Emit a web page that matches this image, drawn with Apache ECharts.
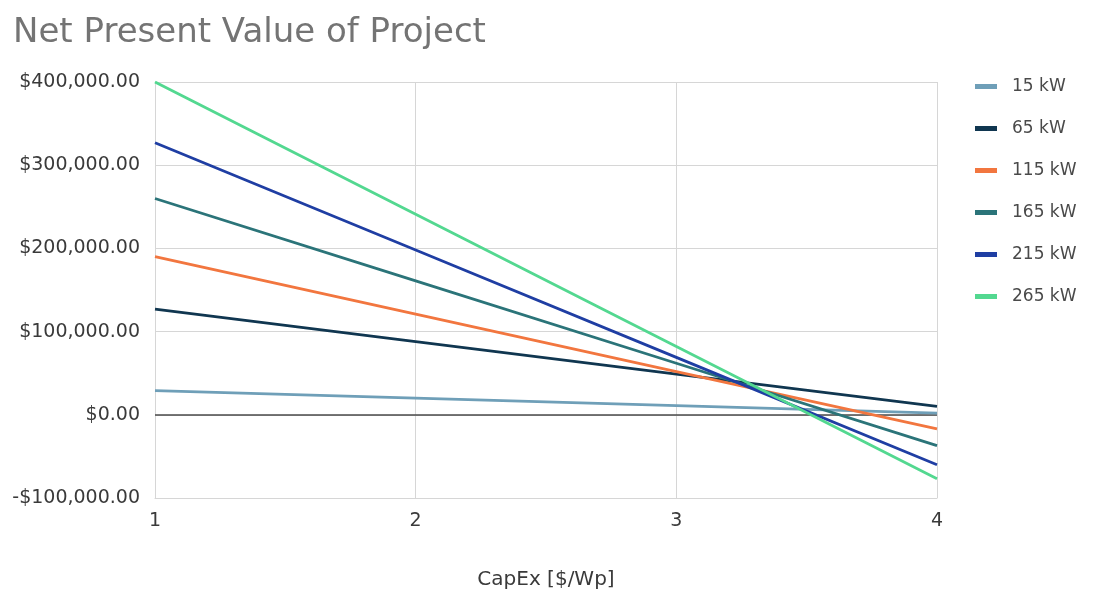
<!DOCTYPE html>
<html>
<head>
<meta charset="utf-8">
<script src="https://cdn.jsdelivr.net/npm/echarts@6/dist/echarts.min.js"></script>
<style>
  html, body { margin: 0; padding: 0; background: #ffffff; }
  #chart { width: 1096px; height: 595px; }
</style>
</head>
<body>
<div id="chart"></div>
<script>
// CapEx values on the horizontal axis ($/Wp)
const capex = [1, 2, 3, 4];

// System sizes shown in the legend
const sizes = ['15 kW', '65 kW', '115 kW', '165 kW', '215 kW', '265 kW'];

// Net present value for each size at each CapEx point
const npv15 = [29000, 20000, 11000, 2000];
const npv65 = [127000, 88000, 49000, 10000];
const npv115 = [190000, 121000, 52000, -17000];
const npv165 = [260000, 161000, 62000, -37000];
const npv215 = [327000, 198000, 69000, -60000];
const npv265 = [400000, 241000, 82000, -77000];

const seriesValues = [npv15, npv65, npv115, npv165, npv215, npv265];
const colors = ['#6f9fb8', '#103650', '#f2763f', '#2b7479', '#1f3ea3', '#53d890'];

const fontFamily = '"DejaVu Sans", "Liberation Sans", Arial, sans-serif';

function money(v) {
  const s = Math.abs(v).toLocaleString('en-US', { minimumFractionDigits: 2, maximumFractionDigits: 2 });
  return (v < 0 ? '-$' : '$') + s;
}

const series = sizes.map((name, i) => ({
  name: name,
  type: 'line',
  data: capex.map((x, j) => [x, seriesValues[i][j]]),
  showSymbol: false,
  symbol: 'none',
  lineStyle: { width: 2.8, color: colors[i] },
  itemStyle: { color: colors[i] },
  z: 3 + i
}));

// dark baseline at zero
series[0].markLine = {
  silent: true,
  symbol: 'none',
  label: { show: false },
  lineStyle: { color: '#4a4a4a', width: 1.5, type: 'solid' },
  data: [{ yAxis: 0 }],
  z: 2
};

const chart = echarts.init(document.getElementById('chart'), null, { renderer: 'canvas' });
chart.setOption({
  backgroundColor: '#ffffff',
  animation: false,
  color: colors,
  title: {
    text: 'Net Present Value of Project',
    left: 8,
    top: 11,
    textStyle: { fontFamily: fontFamily, fontSize: 34, fontWeight: 'normal', color: '#747474' }
  },
  legend: {
    orient: 'vertical',
    left: 970,
    top: 73,
    itemGap: 25,
    itemWidth: 22,
    itemHeight: 5,
    icon: 'rect',
    data: sizes,
    textStyle: { fontFamily: fontFamily, fontSize: 17, color: '#4a4a4a', padding: [0, 0, 0, 10] }
  },
  grid: { left: 155, right: 159, top: 82, bottom: 94, containLabel: false },
  xAxis: {
    type: 'value',
    min: 1,
    max: 4,
    interval: 1,
    name: 'CapEx [$/Wp]',
    nameLocation: 'middle',
    nameGap: 72,
    nameTextStyle: { fontFamily: fontFamily, fontSize: 20, color: '#3a3a3a' },
    axisLine: { show: true, onZero: false, lineStyle: { color: '#d6d6d6', width: 1 } },
    axisTick: { show: false },
    splitLine: { show: true, lineStyle: { color: '#d6d6d6', width: 1 } },
    axisLabel: { fontFamily: fontFamily, fontSize: 19, color: '#3a3a3a', margin: 14 }
  },
  yAxis: {
    type: 'value',
    min: -100000,
    max: 400000,
    interval: 100000,
    axisLine: { show: false },
    axisTick: { show: false },
    splitLine: { show: true, lineStyle: { color: '#d6d6d6', width: 1 } },
    axisLabel: { fontFamily: fontFamily, fontSize: 19, color: '#3a3a3a', margin: 15, formatter: money }
  },
  series: series
});
</script>
</body>
</html>
